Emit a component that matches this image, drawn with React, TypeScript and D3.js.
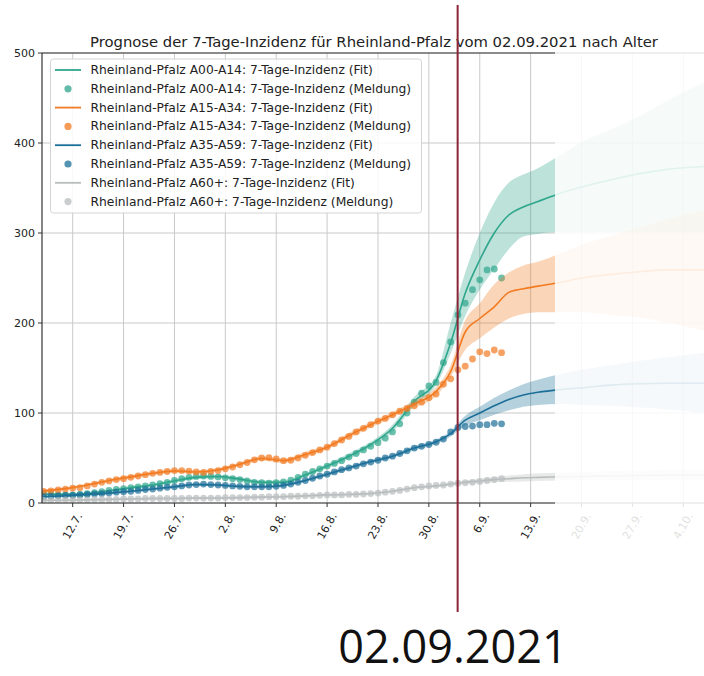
import React from "react";
import * as d3 from "d3";

const W = 704;
const H = 676;

const TITLE = "Prognose der 7-Tage-Inzidenz für Rheinland-Pfalz vom 02.09.2021 nach Alter";
const STAMP = "02.09.2021";

const seriesNames = ["A00-A14", "A15-A34", "A35-A59", "A60+"];
const seriesColors = ["#2ea68c", "#f27b22", "#1c6f98", "#b9bdbd"];

const yTicks = [0, 100, 200, 300, 400, 500];
const xTickDates = [
  "2021-07-12", "2021-07-19", "2021-07-26", "2021-08-02", "2021-08-09", "2021-08-16",
  "2021-08-23", "2021-08-30", "2021-09-06", "2021-09-13", "2021-09-20", "2021-09-27", "2021-10-04",
];

// observed (Meldung): daily from 2021-07-08 to 2021-09-09
const obsStart = "2021-07-08";
const obsEnd = "2021-09-10";
const obsA00 = [
  10, 9.5, 9, 9, 9, 9.5, 10.5, 11.5, 12.5, 14, 15, 16, 17, 18, 19, 20, 21.5, 23, 25, 27, 28.5, 29.5, 30, 29.5,
  29, 28, 27, 26, 24.5, 23, 22.5, 22, 22.5, 23.5, 25.5, 28.5, 32, 35, 38, 41, 44, 47, 51, 55, 59, 63, 67, 72, 79, 88, 100, 112, 122, 130, 134,
  156, 179, 209, 222, 237, 248, 259, 260, 250,
];
const obsA15 = [
  13, 13.5, 14.5, 15.5, 16.5, 17, 19, 21, 23, 24.5, 26, 27, 28.5, 30, 31.5, 33, 34, 35, 36, 36, 35.5, 34.5, 34, 35,
  36, 38, 40, 42.5, 45, 48, 50, 50.5, 49, 47, 47.5, 50, 53, 56, 59, 62, 66, 70, 74, 79, 83, 87, 91, 94, 98, 102, 105, 108, 112, 117, 121,
  132, 138, 148, 152, 160, 168, 166, 170, 167,
];
const obsA35 = [
  7, 7.5, 8, 8.5, 8.5, 9, 9.5, 10, 10.5, 11, 12, 12.5, 13, 14, 15, 15.5, 16.5, 17.5, 18, 19, 20, 20.5, 21, 20.5,
  20, 19.5, 19, 18.5, 18, 18, 18, 18, 18.5, 19.5, 21, 23, 25, 27.5, 30, 32, 34.5, 37, 39, 41, 43.5, 45.5, 47.5, 50, 52, 55, 58, 61, 63, 65, 67.5,
  71, 79, 84, 85, 85.5, 87, 87, 88.5, 88,
];
const obsA60 = [
  3, 3, 3, 3.5, 3.5, 3.5, 3.5, 4, 4, 4, 4, 4.5, 4.5, 4.5, 5, 5, 5, 5, 5, 5, 5.5, 5.5, 5.5, 5.5,
  5.5, 6, 6, 6, 6, 6.5, 6.5, 7, 7, 7, 7.5, 7.5, 8, 8, 8.5, 9, 9, 9, 9.5, 9.5, 10, 10.5, 11, 12, 13, 14, 15.5, 17, 18, 19, 19.5,
  20, 21, 22, 22.5, 23, 24, 25, 26, 27,
];

// fit + confidence band
const fitDates = [
  "2021-07-08", "2021-07-11", "2021-07-14", "2021-07-17", "2021-07-20", "2021-07-23", "2021-07-26", "2021-07-29",
  "2021-08-01", "2021-08-04", "2021-08-07", "2021-08-10", "2021-08-13", "2021-08-16", "2021-08-19", "2021-08-22",
  "2021-08-25", "2021-08-28", "2021-08-31", "2021-09-02", "2021-09-04", "2021-09-06", "2021-09-08", "2021-09-10",
  "2021-09-12", "2021-09-14", "2021-09-17", "2021-09-20", "2021-09-24", "2021-09-28", "2021-10-02", "2021-10-07",
];
const fitA00 = [10, 9.5, 10.5, 13.5, 17, 20, 24.5, 28.5, 29.5, 26.5, 23, 23, 31, 41, 52, 65, 83, 113, 136, 178, 233, 270, 300, 320, 329, 335, 344, 351, 359, 366, 371, 374];
const lowA00 = [8.5, 8, 9, 12, 15.5, 18.5, 22.5, 26.5, 27.5, 24.5, 21, 21, 29, 38.5, 49, 62, 79, 108, 131, 166, 208, 237, 260, 282, 296, 299, 301, 301, 301, 301, 301, 301];
const upA00 = [11.5, 11, 12, 15, 18.5, 21.5, 26.5, 30.5, 31.5, 28.5, 25, 25, 33, 43.5, 55, 68, 87, 118, 142, 200, 256, 300, 334, 356, 365, 372, 386, 401, 415, 430, 448, 468];

const fitA15 = [13.5, 16, 20, 25, 29, 33, 35.5, 34.5, 37, 43, 49.5, 47, 54, 62, 75, 87, 98, 110, 124, 146, 190, 205, 218, 234, 238, 241, 245, 250, 254, 257, 259, 259];
const lowA15 = [12, 14.5, 18.5, 23, 27, 31, 33.5, 32.5, 35, 41, 47, 44.5, 51, 59.5, 72, 84, 95, 106, 119, 140, 170, 183, 195, 205, 210, 212, 212, 212, 209, 206, 200, 191];
const upA15 = [15, 17.5, 21.5, 27, 31, 35, 37.5, 36.5, 39, 45, 52, 49.5, 57, 64.5, 78, 90, 101, 114, 129, 153, 203, 222, 243, 256, 264, 268, 277, 287, 297, 306, 316, 326];

const fitA35 = [7, 8, 9.5, 11, 13, 15.5, 18, 20.5, 20, 18.5, 18, 19.5, 25, 32, 39, 46, 52, 61, 68, 77, 92, 100, 108, 115, 120, 123, 126, 128, 131, 132.5, 133, 133];
const lowA35 = [6, 7, 8.5, 10, 12, 14.5, 16.5, 19, 18.5, 17, 16.5, 18, 23.5, 30, 37, 44, 50, 58.5, 65.5, 74, 86, 92, 98, 103, 107, 109, 110, 109, 108, 106, 104, 100];
const upA35 = [8, 9, 10.5, 12, 14, 16.5, 19.5, 22, 21.5, 20, 19.5, 21, 26.5, 34, 41, 48, 54, 63.5, 70.5, 80, 97, 107, 117, 125, 132, 137, 143, 148, 153, 158, 162, 167];

const fitA60 = [3, 3, 3.5, 4, 4.5, 5, 5, 5.5, 5.5, 6, 6.5, 7, 8, 9, 9.5, 10.5, 13, 17, 19, 21, 23, 24.5, 26, 27, 28, 28.5, 29, 29.5, 30, 30.5, 31, 31];
const lowA60 = [2, 2, 2.5, 3, 3.5, 4, 4, 4.5, 4.5, 5, 5.5, 6, 7, 8, 8.5, 9.5, 12, 16, 18, 19.5, 21, 22, 23, 23.5, 24, 24.5, 25, 25, 25, 25, 25, 25];
const upA60 = [4, 4, 4.5, 5, 5.5, 6, 6, 6.5, 6.5, 7, 7.5, 8, 9, 10, 10.5, 11.5, 14, 18, 20, 22.5, 25, 27, 29, 30.5, 32, 33, 33.5, 34.5, 35.5, 36, 37, 37.5];

const forecastDate = "2021-09-02T23:00";
const domainStart = "2021-07-07T18:40";
const domainEnd = "2021-10-07T03:00";

const parseDay = d3.timeParse("%Y-%m-%d");
const parseDT = d3.timeParse("%Y-%m-%dT%H:%M");
const fmtTick = d3.timeFormat("%-d.%-m.");

const M = { left: 42, right: 706, top: 53, bottom: 503 };
const FADE_X = 555;

export default function App() {
  const x = d3.scaleTime().domain([parseDT(domainStart)!, parseDT(domainEnd)!]).range([M.left, M.right]);
  const y = d3.scaleLinear().domain([0, 500]).range([M.bottom, M.top]);

  const obsDays = d3.timeDay.range(parseDay(obsStart)!, parseDay(obsEnd)!);
  const fDates = fitDates.map((s) => parseDay(s)!);

  const obs = [obsA00, obsA15, obsA35, obsA60];
  const fits = [fitA00, fitA15, fitA35, fitA60];
  const lows = [lowA00, lowA15, lowA35, lowA60];
  const ups = [upA00, upA15, upA35, upA60];

  const line = d3
    .line<number>()
    .x((_, i) => x(fDates[i]))
    .y((v) => y(v))
    .curve(d3.curveMonotoneX);

  const areaOf = (lo: number[], up: number[]) =>
    d3
      .area<number>()
      .x((_, i) => x(fDates[i]))
      .y0((_, i) => y(lo[i]))
      .y1((_, i) => y(up[i]))
      .curve(d3.curveMonotoneX)(lo) || "";

  const xTicks = xTickDates.map((s) => parseDay(s)!);
  const fx = x(parseDT(forecastDate)!);

  const legendRows: { kind: "line" | "dot"; color: string; label: string }[] = [];
  seriesNames.forEach((n, i) => {
    legendRows.push({ kind: "line", color: seriesColors[i], label: `Rheinland-Pfalz ${n}: 7-Tage-Inzidenz (Fit)` });
    legendRows.push({ kind: "dot", color: seriesColors[i], label: `Rheinland-Pfalz ${n}: 7-Tage-Inzidenz (Meldung)` });
  });

  const font = "'DejaVu Sans', sans-serif";

  return (
    <svg width={W} height={H} style={{ position: "absolute", left: 0, top: 0, background: "#fff" }}>
      <defs>
        <clipPath id="plotclip">
          <rect x={M.left} y={M.top} width={M.right - M.left} height={M.bottom - M.top} />
        </clipPath>
      </defs>
      <rect x={0} y={0} width={W} height={H} fill="#fff" />

      {/* grid */}
      <g stroke="#c9c9c9" strokeWidth={1}>
        {xTicks.map((t, i) => (
          <line key={"gx" + i} x1={x(t)} x2={x(t)} y1={M.top} y2={M.bottom} />
        ))}
        {yTicks.map((v, i) => (
          <line key={"gy" + i} x1={M.left} x2={M.right} y1={y(v)} y2={y(v)} />
        ))}
      </g>

      {/* data */}
      <g clipPath="url(#plotclip)">
        {seriesNames.map((n, i) => (
          <g key={n}>
            <path d={areaOf(lows[i], ups[i])} fill={seriesColors[i]} fillOpacity={0.32} />
            <path d={line(fits[i]) || ""} fill="none" stroke={seriesColors[i]} strokeWidth={1.6} />
            {obs[i].map((v, j) => (
              <circle key={j} cx={x(obsDays[j])} cy={y(v)} r={3.4} fill={seriesColors[i]} fillOpacity={0.7} />
            ))}
          </g>
        ))}
      </g>

      {/* spines */}
      <g stroke="#333" strokeWidth={1.2} fill="none">
        <line x1={M.left} x2={M.left} y1={M.top} y2={M.bottom} />
        <line x1={M.left} x2={M.right} y1={M.bottom} y2={M.bottom} />
        <line x1={M.left} x2={M.right} y1={M.top} y2={M.top} />
      </g>

      {/* y ticks */}
      <g fontFamily={font} fontSize={11} fill="#222">
        {yTicks.map((v, i) => (
          <g key={"yt" + i}>
            <line x1={M.left - 4} x2={M.left} y1={y(v)} y2={y(v)} stroke="#333" strokeWidth={1} />
            <text x={M.left - 7} y={y(v)} textAnchor="end" dominantBaseline="central">
              {v}
            </text>
          </g>
        ))}
      </g>

      {/* x ticks */}
      <g fontFamily={font} fontSize={11} fill="#222">
        {xTicks.map((t, i) => (
          <g key={"xt" + i}>
            <line x1={x(t)} x2={x(t)} y1={M.bottom} y2={M.bottom + 4} stroke="#333" strokeWidth={1} />
            <text
              transform={`translate(${x(t) + 7},${M.bottom + 11}) rotate(-60)`}
              textAnchor="end"
              dominantBaseline="central"
            >
              {fmtTick(t)}
            </text>
          </g>
        ))}
      </g>

      {/* legend */}
      <g fontFamily={font} fontSize={12.3} fill="#222">
        <rect x={50.5} y={59} width={371} height={154} rx={3} fill="#fff" fillOpacity={0.85} stroke="#d4d4d4" />
        {legendRows.map((r, i) => {
          const cy = 70 + i * 18.8;
          return (
            <g key={"lg" + i}>
              {r.kind === "line" ? (
                <line x1={55} x2={81} y1={cy} y2={cy} stroke={r.color} strokeWidth={1.8} />
              ) : (
                <circle cx={68} cy={cy} r={3.6} fill={r.color} fillOpacity={0.75} />
              )}
              <text x={90.5} y={cy} dominantBaseline="central">
                {r.label}
              </text>
            </g>
          );
        })}
      </g>

      {/* fade overlay on the far forecast */}
      <rect x={FADE_X} y={50} width={W - FADE_X} height={545} fill="#fff" fillOpacity={0.86} />

      {/* title */}
      <text x={374} y={47} textAnchor="middle" fontFamily={font} fontSize={14.8} fill="#222">
        {TITLE}
      </text>

      {/* forecast marker */}
      <line x1={fx} x2={fx} y1={5} y2={612} stroke="#8a2536" strokeWidth={2} />
      <text x={453} y={663} textAnchor="middle" fontFamily="'Open Sans', sans-serif" fontSize={45} fill="#111">
        {STAMP}
      </text>
    </svg>
  );
}
